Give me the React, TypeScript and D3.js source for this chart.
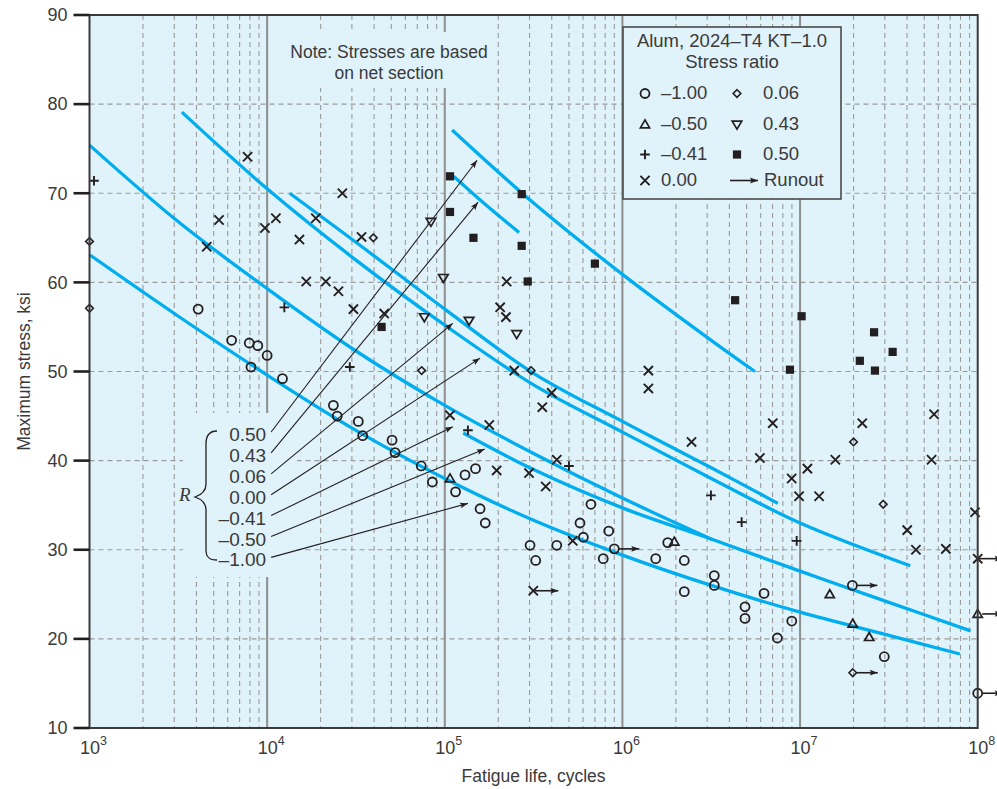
import * as React from "react";
import * as d3 from "d3";

// S-N data, Alum 2024-T4 KT-1.0, max stress (ksi) vs fatigue life (cycles)

// fitted curves, one per stress ratio R
const curveM100N = [1e3, 3162, 1e4, 31623, 1e5, 316228, 1e6, 3.162e6, 1e7, 3.162e7, 7.94e7];
const curveM100S = [63.1, 56.2, 49.6, 43.4, 38.0, 33.3, 29.4, 26.0, 23.0, 20.4, 18.3];
const curveM050N = [1.27e5, 316228, 1e6, 3.162e6, 1e7, 3.162e7, 9.12e7];
const curveM050S = [43.1, 39.0, 34.7, 31.2, 27.6, 24.1, 20.9];
const curveM041N = [1e3, 3162, 1e4, 31623, 1e5, 316228, 1e6, 3.24e6];
const curveM041S = [75.4, 66.8, 59.3, 52.3, 46.2, 40.8, 35.8, 31.1];
const curveP000N = [3.31e3, 1e4, 31623, 1e5, 316228, 1e6, 3.162e6, 1e7, 4.17e7];
const curveP000S = [79.1, 70.5, 62.5, 55.2, 48.5, 43.2, 38.0, 33.0, 28.2];
const curveP006N = [1.34e4, 31623, 1e5, 316228, 1e6, 3.162e6, 7.5e6];
const curveP006S = [70.0, 64.5, 57.0, 49.8, 44.4, 39.2, 35.2];
const curveP043N = [1.12e5, 1.7e5, 2.62e5];
const curveP043S = [71.9, 68.7, 65.6];
const curveP050N = [1.1e5, 316228, 1e6, 3.162e6, 5.57e6];
const curveP050S = [77.1, 68.9, 60.9, 53.5, 50.0];

// test points, R = -1.00 (circles)
const m100N = [4.09e3, 6.31e3, 7.93e3, 8.86e3, 8.11e3, 1.0e4, 1.22e4, 2.36e4, 2.48e4, 3.26e4, 3.45e4, 5.05e4, 5.25e4, 7.37e4, 8.51e4, 1.15e5, 1.3e5, 1.49e5, 1.58e5, 1.69e5, 3.02e5, 3.25e5, 4.27e5, 5.77e5, 6.65e5, 6.03e5, 8.37e5, 7.8e5, 1.54e6, 1.8e6, 2.23e6, 2.23e6, 3.29e6, 3.29e6, 4.9e6, 4.9e6, 6.27e6, 7.45e6, 8.98e6, 2.98e7];
const m100S = [57.0, 53.5, 53.2, 52.9, 50.5, 51.8, 49.2, 46.2, 45.0, 44.4, 42.8, 42.3, 40.9, 39.4, 37.6, 36.5, 38.4, 39.1, 34.6, 33.0, 30.5, 28.8, 30.5, 33.0, 35.1, 31.4, 32.1, 29.0, 29.0, 30.8, 28.8, 25.3, 27.1, 26.0, 23.6, 22.3, 25.1, 20.1, 22.0, 18.0];
const m100RunN = [9.0e5, 1.97e7, 1e8];
const m100RunS = [30.1, 26.0, 13.9];

// R = -0.50 (triangles)
const m050N = [1.07e5, 1.96e6, 1.47e7, 1.98e7, 2.45e7];
const m050S = [38.0, 30.9, 25.0, 21.7, 20.2];
const m050RunN = [1e8];
const m050RunS = [22.8];

// R = -0.41 (plus)
const m041N = [1.06e3, 1.25e4, 2.92e4, 1.35e5, 5.0e5, 3.15e6, 4.69e6, 9.57e6];
const m041S = [71.4, 57.2, 50.5, 43.4, 39.4, 36.1, 33.1, 31.0];

// R = 0.00 (crosses)
const p000N = [7.76e3, 5.36e3, 4.57e3, 9.72e3, 1.12e4, 1.52e4, 1.88e4, 2.65e4, 1.66e4, 2.14e4, 2.52e4, 3.4e4, 3.06e4, 4.56e4, 2.23e5, 2.05e5, 2.21e5, 2.46e5, 4.0e5, 3.54e5, 1.4e6, 1.4e6, 1.07e5, 1.78e5, 4.27e5, 1.96e5, 2.98e5, 3.7e5, 5.25e5, 2.45e6, 7.02e6, 5.94e6, 8.97e6, 1.1e7, 9.87e6, 1.28e7, 1.58e7, 2.24e7, 5.68e7, 5.5e7, 4.01e7, 4.49e7, 6.62e7, 9.66e7];
const p000S = [74.1, 67.0, 64.0, 66.1, 67.2, 64.8, 67.2, 70.0, 60.1, 60.1, 59.0, 65.1, 57.0, 56.5, 60.1, 57.2, 56.1, 50.1, 47.6, 46.0, 50.1, 48.1, 45.1, 44.0, 40.1, 38.9, 38.6, 37.1, 31.0, 42.1, 44.2, 40.3, 38.0, 39.1, 36.0, 36.0, 40.1, 44.2, 45.2, 40.1, 32.2, 30.0, 30.1, 34.2];
const p000RunN = [3.15e5, 1e8];
const p000RunS = [25.4, 29.0];

// R = 0.06 (diamonds)
const p006N = [1e3, 1e3, 3.96e4, 7.41e4, 3.06e5, 2.0e7, 2.94e7];
const p006S = [64.6, 57.1, 65.0, 50.1, 50.1, 42.1, 35.1];
const p006RunN = [1.98e7];
const p006RunS = [16.2];

// R = 0.43 (inverted triangles)
const p043N = [8.36e4, 9.82e4, 7.67e4, 1.37e5, 2.54e5];
const p043S = [66.8, 60.5, 56.1, 55.7, 54.2];

// R = 0.50 (squares)
const p050N = [1.07e5, 1.07e5, 1.45e5, 2.71e5, 2.71e5, 2.93e5, 4.41e4, 7.0e5, 4.31e6, 1.02e7, 2.61e7, 3.32e7, 2.17e7, 2.64e7, 8.77e6];
const p050S = [71.9, 67.9, 65.0, 69.9, 64.1, 60.1, 55.0, 62.1, 58.0, 56.2, 54.4, 52.2, 51.2, 50.1, 50.2];

// R labels and where their leader arrows point
const rLabels = ["0.50", "0.43", "0.06", "0.00", "\u20130.41", "\u20130.50", "\u20131.00"];
const rArrowN = [1.52e5, 1.54e5, 1.11e5, 1.58e5, 1.11e5, 1.68e5, 1.35e5];
const rArrowS = [73.7, 69.0, 55.4, 51.5, 43.8, 41.3, 35.2];

const legendLeft = ["\u20131.00", "\u20130.50", "\u20130.41", "0.00"];
const legendRight = ["0.06", "0.43", "0.50", "Runout"];
const yTicks = [10, 20, 30, 40, 50, 60, 70, 80, 90];
const xDecades = [1e3, 1e4, 1e5, 1e6, 1e7, 1e8];

const ink = "#231f20";
const textCol = "#3a3a3a";
const bg = "#e0f2fa";
const cyan = "#00aeef";
const font = "'Liberation Sans', Arial, sans-serif";

function marker(g: any, kind: string, cx: number, cy: number) {
  if (kind === "circle") {
    g.append("circle").attr("cx", cx).attr("cy", cy).attr("r", 4.5)
      .attr("fill", "none").attr("stroke", ink).attr("stroke-width", 1.8);
  } else if (kind === "cross") {
    const h = 4.6;
    g.append("path").attr("d", `M${cx - h},${cy - h}L${cx + h},${cy + h}M${cx - h},${cy + h}L${cx + h},${cy - h}`)
      .attr("stroke", ink).attr("stroke-width", 1.9).attr("fill", "none");
  } else if (kind === "plus") {
    const h = 4.8;
    g.append("path").attr("d", `M${cx - h},${cy}L${cx + h},${cy}M${cx},${cy - h}L${cx},${cy + h}`)
      .attr("stroke", ink).attr("stroke-width", 1.9).attr("fill", "none");
  } else if (kind === "diamond") {
    const h = 3.8;
    g.append("path").attr("d", `M${cx},${cy - h}L${cx + h},${cy}L${cx},${cy + h}L${cx - h},${cy}Z`)
      .attr("stroke", ink).attr("stroke-width", 1.6).attr("fill", "none");
  } else if (kind === "triUp") {
    g.append("path").attr("d", `M${cx},${cy - 4.6}L${cx + 4.6},${cy + 3.4}L${cx - 4.6},${cy + 3.4}Z`)
      .attr("stroke", ink).attr("stroke-width", 1.7).attr("fill", "none").attr("stroke-linejoin", "miter");
  } else if (kind === "triDown") {
    g.append("path").attr("d", `M${cx},${cy + 4.6}L${cx + 4.8},${cy - 3.4}L${cx - 4.8},${cy - 3.4}Z`)
      .attr("stroke", ink).attr("stroke-width", 1.7).attr("fill", "none");
  } else if (kind === "square") {
    g.append("rect").attr("x", cx - 4.1).attr("y", cy - 4.1).attr("width", 8.2).attr("height", 8.2).attr("fill", ink);
  }
}

function drawChart(el: SVGSVGElement) {
  const svg = d3.select(el);
  svg.selectAll("*").remove();

  const x = d3.scaleLog().domain([1e3, 1e8]).range([89.5, 977.7]);
  const y = d3.scaleLinear().domain([10, 90]).range([728, 15]);
  const x0 = x(1e3), x1 = x(1e8), yTop = y(90), yBot = y(10);

  const defs = svg.append("defs");
  defs.append("marker").attr("id", "head").attr("viewBox", "0 -5 10 10")
    .attr("refX", 10).attr("refY", 0).attr("markerWidth", 10).attr("markerHeight", 8)
    .attr("markerUnits", "userSpaceOnUse").attr("orient", "auto")
    .append("path").attr("d", "M0,-3.6L10,0L0,3.6L2,0Z").attr("fill", ink);

  // plot background
  svg.append("rect").attr("x", x0).attr("y", yTop).attr("width", x1 - x0).attr("height", yBot - yTop).attr("fill", bg);

  // grid
  const isDecade = (t: number) => Math.abs(Math.log10(t) - Math.round(Math.log10(t))) < 1e-6;
  const grid = svg.append("g");
  grid.selectAll("line.minor").data(x.ticks().filter(t => !isDecade(t))).join("line")
    .attr("x1", d => x(d)).attr("x2", d => x(d)).attr("y1", yTop).attr("y2", yBot)
    .attr("stroke", "#9b9b9b").attr("stroke-width", 1.1).attr("stroke-dasharray", "5,4");
  grid.selectAll("line.h").data(yTicks.slice(1, -1)).join("line")
    .attr("x1", x0).attr("x2", x1).attr("y1", d => y(d)).attr("y2", d => y(d))
    .attr("stroke", "#9b9b9b").attr("stroke-width", 1.1).attr("stroke-dasharray", "5,4");
  grid.selectAll("line.dec").data(xDecades.slice(1, -1)).join("line")
    .attr("x1", d => x(d)).attr("x2", d => x(d)).attr("y1", yTop).attr("y2", yBot)
    .attr("stroke", "#8e8e8e").attr("stroke-width", 2);

  // clear areas behind the note and the R labels
  svg.append("rect").attr("x", 285).attr("y", 32).attr("width", 206).attr("height", 56).attr("fill", bg);
  svg.append("rect").attr("x", 183).attr("y", 413).attr("width", 114).attr("height", 164).attr("fill", bg);

  // note
  const note = svg.append("text").attr("font-family", font).attr("font-size", 17.5).attr("fill", textCol).attr("text-anchor", "middle");
  note.append("tspan").attr("x", 389).attr("y", 58).text("Note: Stresses are based");
  note.append("tspan").attr("x", 389).attr("y", 79).text("on net section");

  // S-N curves
  const line = d3.line<[number, number]>().x(d => x(d[0])).y(d => y(d[1])).curve(d3.curveCatmullRom.alpha(0.5));
  const curves = [
    [curveM100N, curveM100S], [curveM050N, curveM050S], [curveM041N, curveM041S],
    [curveP000N, curveP000S], [curveP006N, curveP006S], [curveP043N, curveP043S], [curveP050N, curveP050S],
  ];
  curves.forEach(([ns, ss]) => {
    svg.append("path").datum(ns.map((n, i) => [n, ss[i]] as [number, number]))
      .attr("d", line).attr("fill", "none").attr("stroke", cyan).attr("stroke-width", 3.3);
  });

  // R labels with leader arrows
  const labX = x(1e4) - 1;
  const rg = svg.append("g");
  rLabels.forEach((lab, i) => {
    const by = 441 + i * 20.9;
    rg.append("text").attr("x", labX).attr("y", by).attr("text-anchor", "end")
      .attr("font-family", font).attr("font-size", 19).attr("fill", textCol).text(lab);
    rg.append("line").attr("x1", labX + 5).attr("y1", by - 9).attr("x2", x(rArrowN[i])).attr("y2", y(rArrowS[i]))
      .attr("stroke", ink).attr("stroke-width", 1.1).attr("marker-end", "url(#head)");
  });
  rg.append("path").attr("d", "M217,431C209,431 206,436 206,444L206,484C206,491 201,495 195,497C201,499 206,503 206,510L206,550C206,557 209,560 217,560")
    .attr("fill", "none").attr("stroke", ink).attr("stroke-width", 1.3);
  rg.append("text").attr("x", 179).attr("y", 501).attr("font-family", "'Liberation Serif', 'DejaVu Serif', serif")
    .attr("font-style", "italic").attr("font-size", 19).attr("fill", textCol).text("R");

  // data points
  const pts = svg.append("g");
  const series: [string, number[], number[]][] = [
    ["circle", m100N, m100S], ["triUp", m050N, m050S], ["plus", m041N, m041S], ["cross", p000N, p000S],
    ["diamond", p006N, p006S], ["triDown", p043N, p043S], ["square", p050N, p050S],
  ];
  series.forEach(([k, ns, ss]) => ns.forEach((n, i) => marker(pts, k, x(n), y(ss[i]))));

  // runouts
  const runs: [string, number[], number[], number][] = [
    ["circle", m100RunN, m100RunS, 4.5], ["triUp", m050RunN, m050RunS, 4.5],
    ["cross", p000RunN, p000RunS, 0], ["diamond", p006RunN, p006RunS, 3.8],
  ];
  runs.forEach(([k, ns, ss, off]) => ns.forEach((n, i) => {
    const cx = x(n), cy = y(ss[i]);
    marker(pts, k, cx, cy);
    pts.append("line").attr("x1", cx + off).attr("y1", cy).attr("x2", cx + 25).attr("y2", cy)
      .attr("stroke", ink).attr("stroke-width", 1.6).attr("marker-end", "url(#head)");
  }));

  // legend
  const lg = svg.append("g").attr("font-family", font).attr("font-size", 18.5).attr("fill", textCol);
  lg.append("rect").attr("x", 623).attr("y", 27).attr("width", 218).attr("height", 172)
    .attr("fill", bg).attr("stroke", "#4a4a4a").attr("stroke-width", 1.6);
  lg.append("text").attr("x", 732).attr("y", 47).attr("text-anchor", "middle").text("Alum, 2024\u2013T4 KT\u20131.0");
  lg.append("text").attr("x", 732).attr("y", 68).attr("text-anchor", "middle").text("Stress ratio");
  const rowY = [99, 130, 160, 186];
  const leftKinds = ["circle", "triUp", "plus", "cross"];
  const rightKinds = ["diamond", "triDown", "square", "runout"];
  legendLeft.forEach((t, i) => {
    marker(lg, leftKinds[i], 645, rowY[i] - 5.5);
    lg.append("text").attr("x", 661).attr("y", rowY[i]).text(t);
  });
  legendRight.forEach((t, i) => {
    if (rightKinds[i] === "runout") {
      lg.append("line").attr("x1", 730).attr("y1", rowY[i] - 5.5).attr("x2", 758).attr("y2", rowY[i] - 5.5)
        .attr("stroke", ink).attr("stroke-width", 1.6).attr("marker-end", "url(#head)");
      lg.append("text").attr("x", 764).attr("y", rowY[i]).text(t);
    } else {
      marker(lg, rightKinds[i], 737, rowY[i] - 5.5);
      lg.append("text").attr("x", 763).attr("y", rowY[i]).text(t);
    }
  });

  // frame
  svg.append("rect").attr("x", x0).attr("y", yTop).attr("width", x1 - x0).attr("height", yBot - yTop)
    .attr("fill", "none").attr("stroke", "#3a3a3a").attr("stroke-width", 2);

  // y axis ticks and labels
  const ya = svg.append("g").attr("font-family", font).attr("font-size", 18).attr("fill", textCol);
  yTicks.forEach(t => {
    ya.append("line").attr("x1", x0 - 16).attr("x2", x0).attr("y1", y(t)).attr("y2", y(t))
      .attr("stroke", ink).attr("stroke-width", 2.6);
    ya.append("text").attr("x", x0 - 22).attr("y", y(t)).attr("dy", "0.35em").attr("text-anchor", "end").text(t);
  });
  ya.append("text").attr("transform", `translate(30,${(yTop + yBot) / 2}) rotate(-90)`)
    .attr("text-anchor", "middle").attr("font-size", 17.5).text("Maximum stress, ksi");

  // x axis labels
  const xa = svg.append("g").attr("font-family", font).attr("font-size", 18).attr("fill", textCol);
  xDecades.forEach(d => {
    const t = xa.append("text").attr("x", x(d) + 4).attr("y", 754).attr("text-anchor", "middle");
    t.append("tspan").text("10");
    t.append("tspan").attr("font-size", 12.5).attr("dy", -9).text(String(Math.round(Math.log10(d))));
  });
  xa.append("text").attr("x", (x0 + x1) / 2).attr("y", 782).attr("text-anchor", "middle")
    .attr("font-size", 17.5).text("Fatigue life, cycles");
}

export default function App() {
  const ref = React.useRef<SVGSVGElement>(null);
  React.useEffect(() => {
    if (ref.current) drawChart(ref.current);
  }, []);
  return (
    <svg ref={ref} width={997} height={789}
      style={{ position: "absolute", left: 0, top: 0, background: "#fff" }} />
  );
}
